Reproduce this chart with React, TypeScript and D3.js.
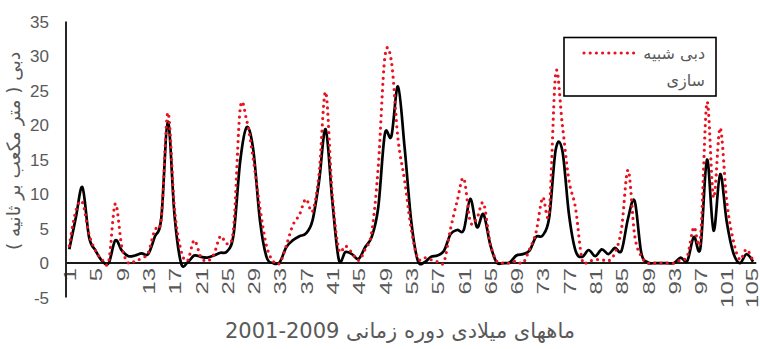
import React from 'react';
import * as d3 from 'd3';

const observed = [
  2.0, 6.6, 11.0, 3.8, 1.8, 0.3, 0.0, 3.3, 1.8, 1.0,
  1.1, 1.4, 1.3, 3.8, 6.6, 20.5, 7.0, 0.0, 0.1, 1.1,
  0.9, 0.8, 1.1, 1.5, 1.7, 4.2, 14.8, 19.7, 16.3, 6.2,
  0.9, 0.0, 0.1, 2.3, 3.3, 3.9, 4.3, 6.2, 11.9, 19.4,
  9.1, 0.5, 1.6, 1.3, 0.6, 2.3, 3.8, 8.1, 18.7, 18.4,
  25.6, 16.8, 6.2, 0.4, 0.1, 0.9, 1.1, 1.8, 4.2, 4.8,
  4.8, 9.3, 5.2, 7.1, 2.8, 0.1, 0.0, 0.1, 1.1, 1.3,
  1.8, 3.8, 4.0, 6.6, 16.5, 16.3, 7.1, 1.8, 0.9, 1.9,
  1.0, 2.0, 1.3, 2.2, 1.8, 6.5, 9.0, 1.5, 0.1, 0.0,
  0.0, 0.0, 0.0, 0.8, 0.3, 3.8, 2.2, 15.0, 4.7, 12.9,
  6.0, 1.5, 0.0, 1.3, 0.2,
];

const simulated = [
  2.5, 7.6, 8.8, 4.2, 1.8, 0.5, 0.3, 8.6, 2.3, 0.0,
  0.3, 0.7, 1.5, 4.8, 6.5, 21.8, 8.0, 1.8, 0.4, 3.3,
  0.9, 0.3, 1.3, 3.9, 2.8, 5.2, 22.4, 20.6, 15.0, 8.0,
  2.5, 0.3, 0.0, 2.5, 5.5, 7.0, 9.3, 7.5, 13.0, 24.8,
  10.0, 2.0, 2.5, 1.5, 0.4, 2.0, 4.5, 14.0, 29.8, 29.2,
  18.0, 12.0, 5.0, 0.7, 0.8, 0.5, 0.2, 0.2, 5.0, 9.0,
  12.3, 6.0, 6.5, 8.7, 3.0, 0.3, 0.0, 0.0, 0.3, 0.0,
  2.0, 4.5, 9.5, 7.5, 27.6, 20.0, 12.0, 8.0, 0.5, 0.3,
  0.5, 0.5, 0.3, 1.5, 5.0, 13.5, 4.0, 1.0, 0.0, 0.0,
  0.0, 0.0, 0.0, 0.5, 1.0, 5.2, 3.5, 23.3, 9.5, 19.6,
  9.0, 3.3, 0.5, 2.0, 0.3,
];

const xTickLabels = [1, 5, 9, 13, 17, 21, 25, 29, 33, 37, 41, 45, 49, 53, 57, 61, 65, 69, 73, 77, 81, 85, 89, 93, 97, 101, 105];
const yTickLabels = [-5, 0, 5, 10, 15, 20, 25, 30, 35];
const legendLines = ['دبی شبیه', 'سازی'];
const yTitle = 'دبی ( متر مکعب بر ثانیه )';
const xTitleWords = 'ماههای میلادی دوره زمانی';
const xTitleYears = '2001-2009';

const GREY = '#595959';
const RED = '#e8131f';
const TICK_FONT = "'Liberation Sans', Arial, sans-serif";
const FA_FONT = "'DejaVu Sans', sans-serif";

export default function App() {
  const W = 760;
  const H = 349;
  const left = 66;
  const right = 756.3;
  const n = observed.length;
  const x = d3.scaleLinear().domain([0.5, n + 0.5]).range([left, right]);
  const y = d3.scaleLinear().domain([-5, 35]).range([297.6, 21.6]);
  const line = d3
    .line<number>()
    .x((_, i) => x(i + 1))
    .y((d) => y(d))
    .curve(d3.curveCatmullRom.alpha(0));

  return (
    <svg
      width={W}
      height={H}
      style={{ position: 'absolute', left: 0, top: 0, display: 'block', background: '#fff' }}
    >
      {/* y tick labels */}
      {yTickLabels.map((t) => (
        <text
          key={t}
          x={49}
          y={y(t)}
          dy="0.35em"
          textAnchor="end"
          fontFamily={TICK_FONT}
          fontSize={17}
          fill={GREY}
        >
          {t}
        </text>
      ))}
      {/* y title */}
      <text
        transform={`translate(14,${151}) rotate(-90)`}
        textAnchor="middle"
        dy="0.35em"
        direction="rtl"
        fontFamily={FA_FONT}
        fontSize={18.5}
        fill={GREY}
      >
        {yTitle}
      </text>
      {/* x tick labels */}
      {xTickLabels.map((t) => (
        <text
          key={t}
          transform={`translate(${Math.min(x(t) + 1, 752)},268) rotate(-90) scale(1.45,1)`}
          textAnchor="end"
          dy="0.35em"
          fontFamily={TICK_FONT}
          fontSize={16.5}
          fill={GREY}
        >
          {t}
        </text>
      ))}
      {/* axes */}
      <line x1={left} x2={left} y1={y(35)} y2={y(-5)} stroke="#262626" strokeWidth={2} />
      <line x1={left} x2={right} y1={y(0)} y2={y(0)} stroke="#1a1a1a" strokeWidth={2} />
      {/* series */}
      <path d={line(observed) || ''} fill="none" stroke="#000" strokeWidth={2.7} strokeLinejoin="round" />
      <path
        d={line(simulated) || ''}
        fill="none"
        stroke={RED}
        strokeWidth={3.2}
        strokeDasharray="0 6.2"
        strokeLinecap="round"
      />
      {/* legend */}
      <rect x={564} y={37.5} width={152} height={58.5} fill="#fff" stroke="#000" strokeWidth={1.6} />
      <line
        x1={584}
        x2={638}
        y1={53}
        y2={53}
        stroke={RED}
        strokeWidth={3.2}
        strokeDasharray="0 6.2"
        strokeLinecap="round"
      />
      {legendLines.map((s, i) => (
        <text
          key={s}
          x={705}
          y={53 + i * 27}
          dy="0.35em"
          textAnchor="start"
          direction="rtl"
          fontFamily={FA_FONT}
          fontSize={16}
          fill={GREY}
        >
          {s}
        </text>
      ))}
      {/* x title */}
      <text
        x={400}
        y={338}
        textAnchor="middle"
        direction="rtl"
        fontFamily={FA_FONT}
        fontSize={21}
        fill={GREY}
      >
        {xTitleWords + ' \u2066' + xTitleYears + '\u2069'}
      </text>
    </svg>
  );
}
